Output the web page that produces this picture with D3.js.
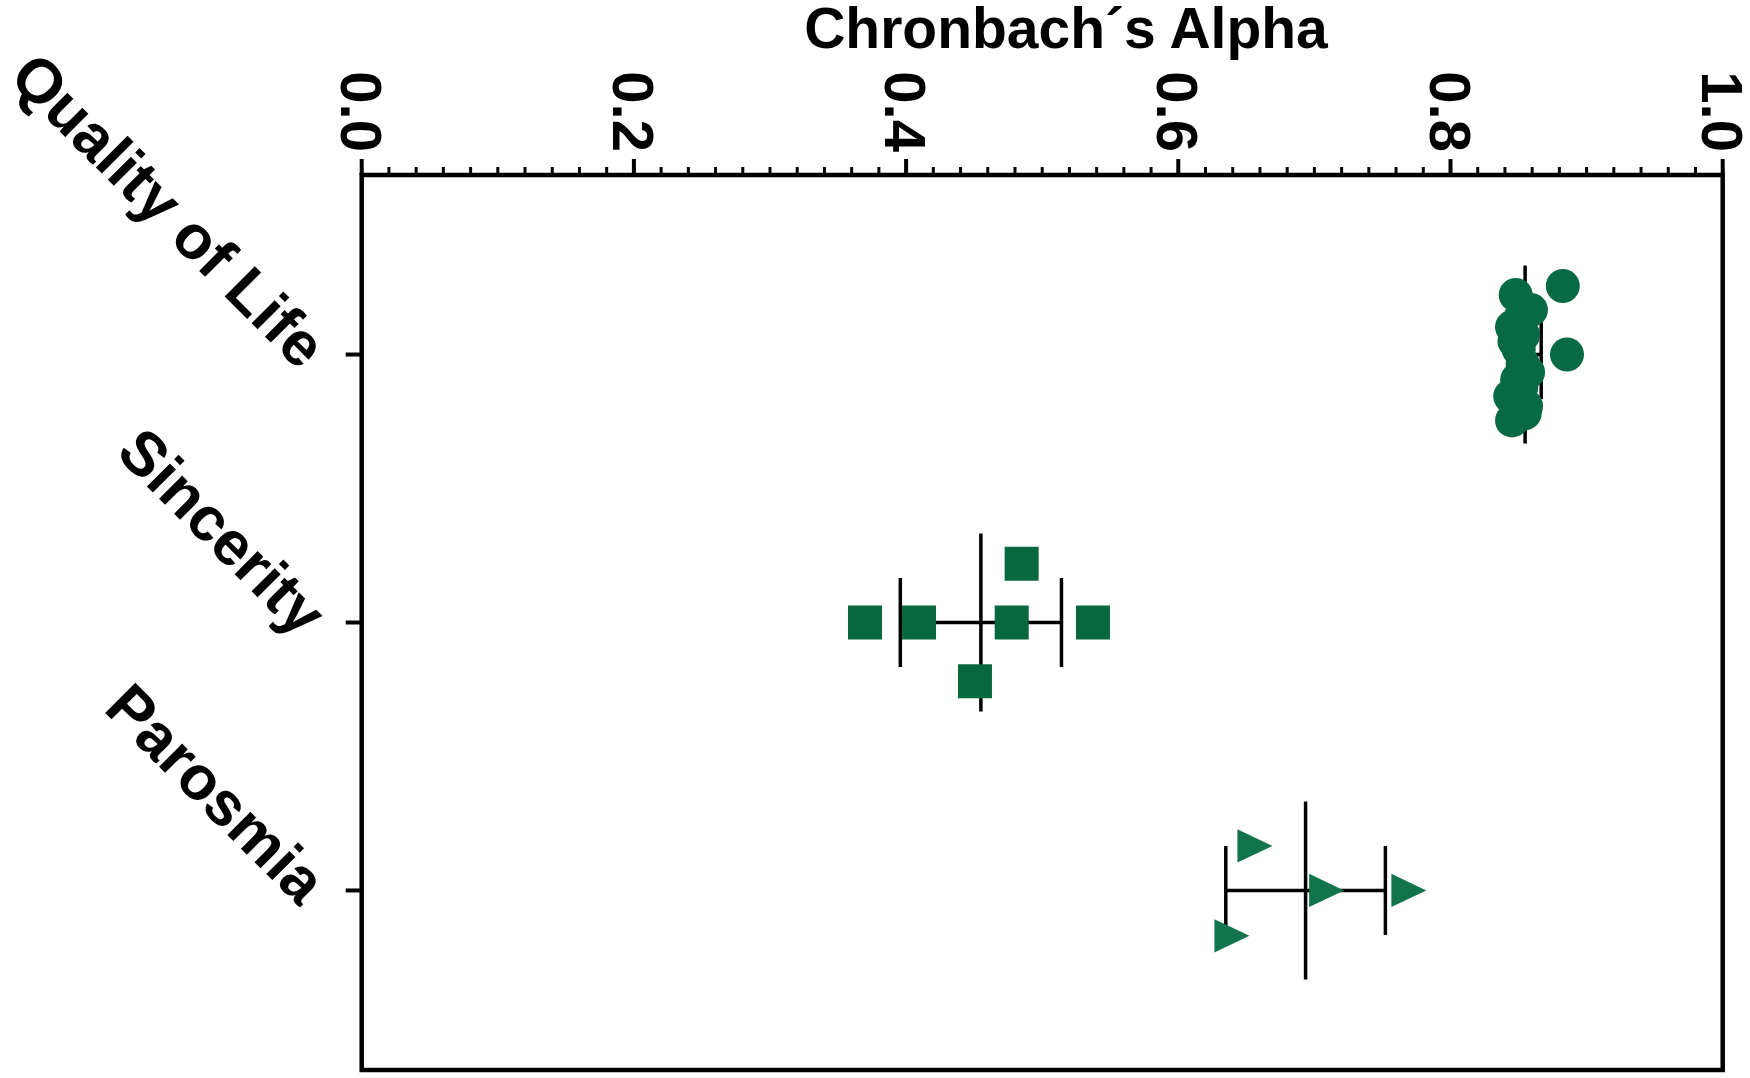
<!DOCTYPE html>
<html>
<head>
<meta charset="utf-8">
<script src="https://cdn.jsdelivr.net/npm/d3@7"></script>
<style>
  html, body { margin: 0; padding: 0; background: #fff; }
  svg { display: block; }
  text { font-family: "Liberation Sans", Arial, sans-serif; font-weight: bold; fill: #000; }
</style>
</head>
<body>
<svg id="chart" width="1750" height="1078"></svg>
<script>
// ---- data ----
const categories = ["Quality of Life", "Sincerity", "Parosmia"];
const axisTitle = "Chronbach\u00b4s Alpha";
const xTickValues = [0, 0.2, 0.4, 0.6, 0.8, 1.0];
const xTickLabels = ["0.0", "0.2", "0.4", "0.6", "0.8", "1.0"];

const qolAlpha  = [0.8825, 0.8479, 0.8591, 0.8510, 0.8452, 0.8534, 0.8470, 0.8501, 0.8856, 0.8530, 0.8570, 0.8490, 0.8520, 0.8439, 0.8555, 0.8545, 0.8452];
const qolJitter = [-0.77, -0.67, -0.50, -0.40, -0.31, -0.22, -0.15, -0.06, 0.00, 0.10, 0.20, 0.28, 0.37, 0.47, 0.58, 0.66, 0.74];

const sincerityAlpha  = [0.3698, 0.4095, 0.4506, 0.4776, 0.4849, 0.5373];
const sincerityJitter = [0, 0, 0.66, 0, -0.66, 0];

const parosmiaAlpha  = [0.6394, 0.6563, 0.7090, 0.7694];
const parosmiaJitter = [0.51, -0.50, 0, 0];

// ---- layout ----
const svg = d3.select("#chart");
const mLeft = 361.7, mRight = 1722.7, mTop = 175, mBottom = 1070;

const x = d3.scaleLinear().domain([0, 1]).range([mLeft, mRight]);
const y = d3.scalePoint().domain(categories).range([mTop, mBottom]).padding(0.67);
const jitter = d3.scaleLinear().domain([-1, 1]).range([-89, 89]);

const groups = [
  { cat: categories[0], values: qolAlpha, jit: qolJitter, shape: "circle", color: "#076a44" },
  { cat: categories[1], values: sincerityAlpha, jit: sincerityJitter, shape: "square", color: "#07683f" },
  { cat: categories[2], values: parosmiaAlpha, jit: parosmiaJitter, shape: "triangle", color: "#12744d" }
];

// custom right-pointing triangle symbol
const symbolTriRight = {
  draw(context, size) {
    const w = Math.sqrt(size);
    const h = w * 0.95;
    context.moveTo(-w / 2, -h / 2);
    context.lineTo(w / 2, 0);
    context.lineTo(-w / 2, h / 2);
    context.closePath();
  }
};

// frame
svg.append("rect")
  .attr("x", mLeft).attr("y", mTop)
  .attr("width", mRight - mLeft).attr("height", mBottom - mTop)
  .attr("fill", "none").attr("stroke", "#000").attr("stroke-width", 4.5);

// top axis: major + minor ticks
const minor = d3.range(0, 1.0001, 0.02);
svg.append("g").selectAll("line").data(minor).join("line")
  .attr("x1", d => x(d)).attr("x2", d => x(d))
  .attr("y1", mTop).attr("y2", mTop - 8)
  .attr("stroke", "#000").attr("stroke-width", 3);
svg.append("g").selectAll("line").data(xTickValues).join("line")
  .attr("x1", d => x(d)).attr("x2", d => x(d))
  .attr("y1", mTop).attr("y2", mTop - 16)
  .attr("stroke", "#000").attr("stroke-width", 4);
svg.append("g").selectAll("text").data(xTickValues).join("text")
  .attr("transform", d => `translate(${x(d)},${mTop - 23}) rotate(90)`)
  .attr("text-anchor", "end")
  .attr("dy", "0.36em")
  .style("font-size", "58px")
  .text((d, i) => xTickLabels[i]);

svg.append("text")
  .attr("x", 1066).attr("y", 48)
  .attr("text-anchor", "middle")
  .style("font-size", "57px")
  .text(axisTitle);

// left category ticks + labels
svg.append("g").selectAll("line").data(categories).join("line")
  .attr("x1", mLeft).attr("x2", mLeft - 16)
  .attr("y1", d => y(d)).attr("y2", d => y(d))
  .attr("stroke", "#000").attr("stroke-width", 4);
svg.append("g").selectAll("text").data(categories).join("text")
  .attr("transform", d => `translate(${mLeft - 62},${y(d) + 17}) rotate(45)`)
  .attr("text-anchor", "end")
  .style("font-size", "62px")
  .text(d => d);

// mean & SD bars
groups.forEach(g => {
  const cy = y(g.cat);
  const m = d3.mean(g.values);
  const sd = d3.deviation(g.values);
  const e = svg.append("g").attr("stroke", "#000").attr("stroke-width", 3.5);
  e.append("line").attr("x1", x(m)).attr("x2", x(m)).attr("y1", cy + jitter(-1)).attr("y2", cy + jitter(1));
  e.append("line").attr("x1", x(m - sd)).attr("x2", x(m + sd)).attr("y1", cy).attr("y2", cy);
  [m - sd, m + sd].forEach(v => {
    e.append("line").attr("x1", x(v)).attr("x2", x(v)).attr("y1", cy + jitter(-0.5)).attr("y2", cy + jitter(0.5));
  });
});

// points
groups.forEach(g => {
  const cy = y(g.cat);
  const sym = g.shape === "circle" ? d3.symbol(d3.symbolCircle, Math.PI * 17 * 17)
            : g.shape === "square" ? d3.symbol(d3.symbolSquare, 34 * 34)
            : d3.symbol(symbolTriRight, 35 * 35);
  svg.append("g").selectAll("path").data(g.values).join("path")
    .attr("d", sym)
    .attr("transform", (d, i) => `translate(${x(d)},${cy + jitter(g.jit[i])})`)
    .attr("fill", g.color);
});
</script>
</body>
</html>
